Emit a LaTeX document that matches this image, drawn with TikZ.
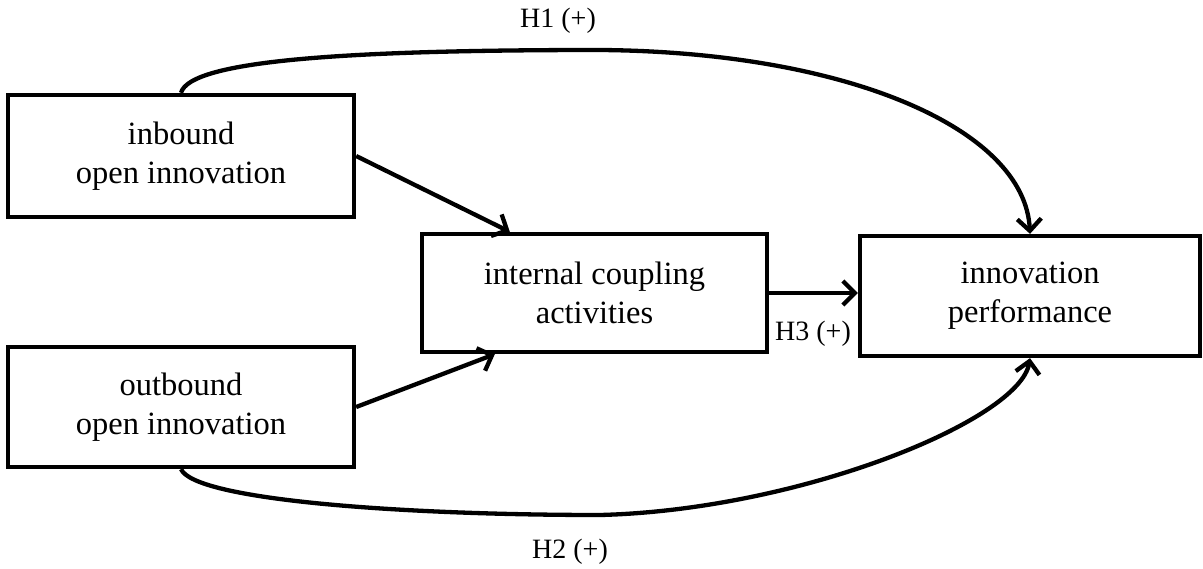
\documentclass[tikz,border=0pt]{standalone}
\usepackage{fontspec}
\setmainfont{Liberation Serif}
\usetikzlibrary{arrows.meta,calc}
\tikzset{
  box/.style={draw, line width=4.3pt, rectangle, align=center, inner sep=0pt,
    font=\fontsize{32.5}{39}\selectfont},
  conn/.style={line width=4.3pt, -{Straight Barb[length=12pt,width=24pt]}},
  hlab/.style={font=\fontsize{28}{32}\selectfont, inner sep=0pt}
}
\begin{document}
\begin{tikzpicture}[x=1pt,y=-1pt]
\useasboundingbox (0,0) rectangle (1203,569);
\node[box, minimum width=346pt, minimum height=122pt] (in) at (181,156) {inbound\\open innovation};
\node[box, minimum width=346pt, minimum height=120pt] (out) at (181,407) {outbound\\open innovation};
\node[box, minimum width=345pt, minimum height=118pt] (ic) at (594.5,293) {internal coupling\\activities};
\node[box, minimum width=340pt, minimum height=120pt] (ip) at (1030,296) {innovation\\performance};
\coordinate (t1) at ($(ic.north west)+(90,0)$);
\coordinate (t2) at ($(ic.south west)+(75,0)$);
\draw[conn] (in.east) -- (t1);
\draw[conn] (out.east) -- (t2);
\draw[conn] (ic.east) -- (ic.east -| ip.west);
\draw[conn] (in.north) .. controls (190,60) and (350,50) .. (600,50) .. controls (850,52) and (1025,130) .. (ip.north);
\draw[conn] (out.south) .. controls (195,500) and (400,515) .. (600,515) .. controls (800,510) and (1020,420) .. (ip.south);
\node[hlab] (h1) at (558,21) {H1 (+)};
\node[hlab] (h2) at (570,552) {H2 (+)};
\node[hlab] (h3) at (813,334) {H3 (+)};
\end{tikzpicture}
\end{document}
